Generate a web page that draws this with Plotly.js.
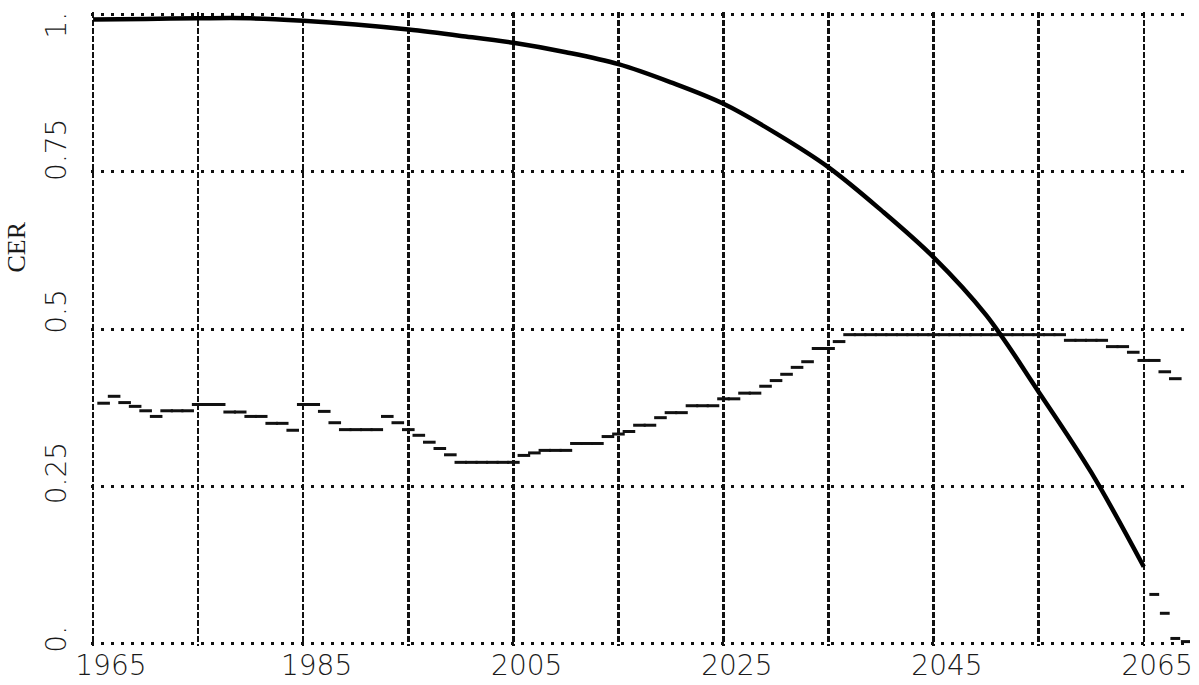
<!DOCTYPE html>
<html>
<head>
<meta charset="utf-8">
<script src="https://cdn.plot.ly/plotly-3.0.1.min.js"></script>
<style>html,body{margin:0;padding:0;background:#fff;}#chart{width:1199px;height:685px;}</style>
</head>
<body>
<div id="chart"></div>
<script>
// Main curve (CER), read every 5 years
var mainYears = [1965,1970,1975,1980,1985,1990,1995,2000,2005,2010,2015,2020,2025,2030,2035,2040,2045,2050,2055,2060,2065];
var mainValues = [0.992,0.993,0.994,0.994,0.990,0.984,0.976,0.966,0.955,0.940,0.921,0.892,0.858,0.811,0.757,0.689,0.614,0.522,0.400,0.272,0.122];

// Tail points after the curve ends
var tailYears = [2066,2067,2068,2069];
var tailValues = [0.078,0.048,0.008,0.003];

// Second series: annual short dashes
var dashYears = [];
for (var y = 1966; y <= 2068; y++) dashYears.push(y);
var dashValues = [
  0.382,0.393,0.383,0.377,0.370,0.361,0.370,0.370,0.370,0.380, // 1966-1975
  0.380,0.380,0.368,0.368,0.361,0.361,0.350,0.350,0.339,0.380, // 1976-1985
  0.380,0.369,0.351,0.340,0.340,0.340,0.340,0.361,0.351,0.340, // 1986-1995
  0.331,0.320,0.310,0.300,0.288,0.288,0.288,0.288,0.288,0.288, // 1996-2005
  0.299,0.303,0.307,0.307,0.307,0.318,0.318,0.318,0.329,0.333, // 2006-2015
  0.337,0.347,0.347,0.359,0.367,0.367,0.378,0.378,0.378,0.389, // 2016-2025
  0.389,0.398,0.398,0.409,0.418,0.428,0.439,0.448,0.469,0.469, // 2026-2035
  0.480,0.491,0.491,0.491,0.491,0.491,0.491,0.491,0.491,0.491, // 2036-2045
  0.491,0.491,0.491,0.491,0.491,0.491,0.491,0.491,0.491,0.491, // 2046-2055
  0.491,0.491,0.482,0.482,0.482,0.482,0.472,0.472,0.463,0.450, // 2056-2065
  0.450,0.432,0.421                                            // 2066-2068
];

var NB = '\u00a0';
var xTickVals = [1965,1975,1985,1995,2005,2015,2025,2035,2045,2055,2065];
var xTickText = [NB+NB+NB+NB+'1965','',NB+NB+NB+'1985','',NB+NB+NB+'2005','',NB+NB+NB+'2025','',NB+NB+NB+'2045','',NB+NB+NB+'2065'];
var yTickVals = [0,0.25,0.5,0.75,1];
var yTickText = ['0.',NB+NB+'0.25',NB+NB+NB+'0.5',NB+NB+NB+NB+'0.75',''];
var yTopLabel = '1.';

var tickFont = {size: 28, family: 'DejaVu Sans, sans-serif', color: '#1a1a1a', weight: 300};

var traces = [
  {
    x: dashYears, y: dashValues, type: 'scatter', mode: 'markers',
    marker: {symbol: 'line-ew', size: 9, color: '#111', line: {color: '#111', width: 3}}
  },
  {
    x: mainYears, y: mainValues, type: 'scatter', mode: 'lines',
    line: {color: '#000', width: 4.5, shape: 'spline', smoothing: 1}
  },
  {
    x: tailYears, y: tailValues, type: 'scatter', mode: 'markers',
    marker: {symbol: 'line-ew', size: 7, color: '#111', line: {color: '#111', width: 3}}
  }
];

var layout = {
  width: 1199, height: 685,
  margin: {l: 91, r: 9, t: 12, b: 39},
  paper_bgcolor: '#fff', plot_bgcolor: '#fff',
  showlegend: false,
  font: {family: 'DejaVu Sans, sans-serif', color: '#1a1a1a'},
  xaxis: {
    range: [1964.8, 2069.4],
    tickvals: xTickVals, ticktext: xTickText,
    showgrid: true, gridcolor: '#111', gridwidth: 2.5, griddash: '6px,2px',
    zeroline: false, showline: false, ticks: '',
    tickfont: tickFont, ticklabeloverflow: 'allow',
    fixedrange: true
  },
  yaxis: {
    range: [-0.004, 1.004],
    tickvals: yTickVals, ticktext: yTickText,
    tickangle: -90,
    showgrid: true, gridcolor: '#111', gridwidth: 3, griddash: '3px,7px',
    zeroline: false, showline: false, ticks: '',
    tickfont: tickFont, ticklabeloverflow: 'allow',
    ticklabelstandoff: 18,
    fixedrange: true
  },
  annotations: [
    {
      text: 'CER', xref: 'paper', yref: 'y', x: -0.068, y: 0.63,
      xanchor: 'center', yanchor: 'middle', textangle: -90, showarrow: false,
      font: {size: 26, family: 'Liberation Serif, serif', color: '#1a1a1a'}
    },
    {
      text: yTopLabel, xref: 'paper', yref: 'y', x: -0.031, y: 1, yshift: -10,
      xanchor: 'center', yanchor: 'middle', textangle: -90, showarrow: false,
      font: tickFont
    }
  ]
};

Plotly.newPlot('chart', traces, layout, {displayModeBar: false, staticPlot: true});
</script>
</body>
</html>
